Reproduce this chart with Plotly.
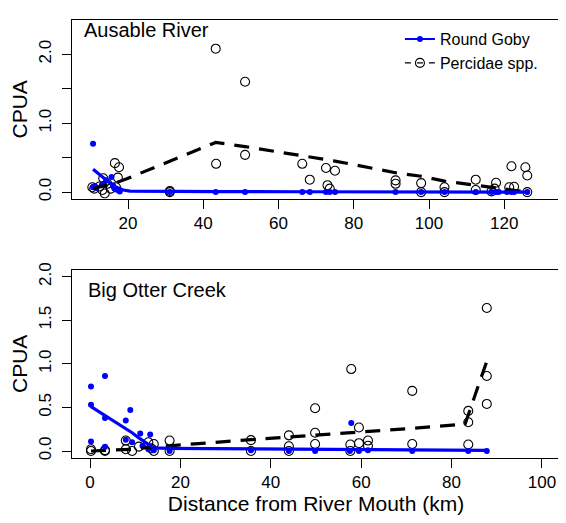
import plotly.graph_objects as go

# ---------------- Data ----------------
# Ausable River (top panel)
aus_goby_x = [10.7, 10.7, 11.2, 11.6, 13.0, 13.5, 14.2, 15.6, 16.0, 16.5, 17.2, 17.8,
              31.1, 43.3, 51.1, 66.3, 68.3, 72.6, 73.6, 75.0, 91.1, 97.9, 104.1,
              112.4, 116.6, 117.8, 118.5, 120.7, 121.9, 122.6, 126.1]
aus_goby_y = [0.70, 0.07, 0.08, 0.06, 0.10, 0.12, 0.17, 0.22, 0.10, 0.05, 0.03, 0.01,
              0.0, 0.0, 0.0, 0.0, 0.0, 0.0, 0.0, 0.0, 0.0, 0.0, 0.0,
              0.0, 0.0, 0.0, 0.0, 0.0, 0.0, 0.0, 0.0]
aus_perc_x = [10.5, 11.0, 12.4, 13.2, 13.8, 13.4, 14.5, 15.4, 16.5, 17.6, 17.3, 16.8,
              31.1, 31.1, 43.3, 43.4, 51.1, 51.1, 66.3, 68.3, 72.6, 73.0, 73.6, 75.0,
              91.1, 91.1, 97.9, 97.9, 104.1, 104.1, 112.4, 112.4, 117.8, 117.4, 116.6,
              121.3, 121.9, 122.6, 125.6, 126.1, 126.1]
aus_perc_y = [0.07, 0.05, 0.08, 0.03, -0.02, 0.20, 0.12, 0.05, 0.42, 0.36, 0.21, 0.07,
              0.015, 0.0, 2.08, 0.41, 1.60, 0.54, 0.41, 0.18, 0.35, 0.10, 0.05, 0.31,
              0.17, 0.12, 0.13, 0.0, 0.07, 0.0, 0.18, 0.03, 0.135, 0.05, 0.01,
              0.07, 0.375, 0.077, 0.36, 0.24, 0.0]
aus_goby_fit_x = [10.7, 12.0, 13.5, 15.0, 16.5, 18.7, 20.5, 31.1, 43.3, 66.3, 91.1, 112.4, 126.1]
aus_goby_fit_y = [0.33, 0.27, 0.20, 0.14, 0.08, 0.03, 0.015, 0.01, 0.008, 0.005, 0.003, 0.002, 0.0]
aus_perc_fit_x = [10.7, 13.0, 15.0, 17.5, 19.5, 31.1, 43.3, 51.1, 66.3, 75.0, 91.1, 97.9,
                  104.1, 112.4, 117.8, 121.9, 126.1]
aus_perc_fit_y = [0.05, 0.08, 0.11, 0.15, 0.19, 0.45, 0.72, 0.66, 0.53, 0.45, 0.28, 0.23,
                  0.16, 0.10, 0.06, 0.02, 0.0]

# Big Otter Creek (bottom panel)
bo_goby_x = [0.2, 0.2, 0.2, 3.3, 3.3, 3.3, 7.9, 7.9, 8.9, 9.3, 11.1, 11.6, 13.3, 12.9, 14.1,
             17.6, 35.6, 44.0, 49.8, 57.5, 57.8, 59.5, 61.5, 71.3, 83.7, 87.8]
bo_goby_y = [0.74, 0.53, 0.11, 0.86, 0.38, 0.05, 0.35, 0.13, 0.47, 0.10, 0.20, 0.06, 0.19, 0.02, 0.01,
             0.0, 0.01, 0.0, 0.0, 0.0, 0.32, 0.0, 0.01, 0.0, 0.0, 0.0]
bo_perc_x = [0.2, 0.2, 3.3, 3.3, 7.9, 7.9, 9.3, 10.8, 12.9, 13.5, 14.1, 14.1, 17.6, 17.6,
             35.6, 35.6, 44.0, 44.0, 44.0, 49.8, 49.8, 49.8, 57.8, 57.6, 57.6, 59.5, 59.5,
             61.5, 61.5, 71.3, 71.3, 83.7, 83.7, 83.7, 87.8, 87.8, 87.8]
bo_perc_y = [0.02, 0.0, 0.01, 0.0, 0.02, 0.12, 0.0, 0.05, 0.10, 0.03, 0.08, 0.0, 0.12, 0.0,
             0.125, 0.0, 0.18, 0.055, 0.0, 0.49, 0.21, 0.08, 0.94, 0.075, 0.0, 0.27, 0.09,
             0.12, 0.06, 0.69, 0.08, 0.46, 0.33, 0.075, 1.64, 0.86, 0.54]
bo_goby_fit_x = [0.2, 3.3, 7.9, 9.3, 10.8, 12.9, 14.1, 17.6, 35.6, 44.0, 49.8, 57.8, 61.5, 71.3, 83.7, 87.8]
bo_goby_fit_y = [0.51, 0.41, 0.26, 0.21, 0.15, 0.08, 0.035, 0.03, 0.025, 0.022, 0.02, 0.02, 0.018, 0.015, 0.01, 0.008]
bo_perc_fit_x = [0.2, 3.3, 7.9, 9.3, 10.8, 12.9, 14.1, 17.6, 35.6, 44.0, 49.8, 57.8, 61.5, 71.3, 83.0, 87.8]
bo_perc_fit_y = [0.0, 0.005, 0.015, 0.02, 0.03, 0.04, 0.045, 0.06, 0.13, 0.16, 0.18, 0.21, 0.22, 0.26, 0.31, 1.03]

panel_labels = ["Ausable River", "Big Otter Creek"]
series_names = ["Round Goby", "Percidae spp."]
top_yticks = [0, 0.5, 1.0, 1.5, 2.0, 2.5]
top_yticklabels = ["0.0", "", "1.0", "", "2.0", ""]
bot_yticks = [0, 0.5, 1.0, 1.5, 2.0]
bot_yticklabels = ["0.0", "0.5", "1.0", "1.5", "2.0"]
top_xticks = [20, 40, 60, 80, 100, 120]
bot_xticks = [0, 20, 40, 60, 80, 100]

BLUE = "#0000FF"
FONT = "Liberation Sans, Arial, Helvetica, sans-serif"

fig = go.Figure()

def add_panel(xa, ya, gx, gy, px, py, gfx, gfy, pfx, pfy):
    fig.add_trace(go.Scatter(x=px, y=py, mode="markers", xaxis=xa, yaxis=ya, showlegend=False,
                             marker=dict(symbol="circle-open", size=9, color="black",
                                         line=dict(width=1.1, color="black"))))
    fig.add_trace(go.Scatter(x=gx, y=gy, mode="markers", xaxis=xa, yaxis=ya, showlegend=False,
                             marker=dict(symbol="circle", size=6, color=BLUE)))
    fig.add_trace(go.Scatter(x=pfx, y=pfy, mode="lines", xaxis=xa, yaxis=ya, showlegend=False,
                             line=dict(color="black", width=3.2, dash="15px,10px")))
    fig.add_trace(go.Scatter(x=gfx, y=gfy, mode="lines", xaxis=xa, yaxis=ya, showlegend=False,
                             line=dict(color=BLUE, width=3.2)))

add_panel("x", "y", aus_goby_x, aus_goby_y, aus_perc_x, aus_perc_y,
          aus_goby_fit_x, aus_goby_fit_y, aus_perc_fit_x, aus_perc_fit_y)
add_panel("x2", "y2", bo_goby_x, bo_goby_y, bo_perc_x, bo_perc_y,
          bo_goby_fit_x, bo_goby_fit_y, bo_perc_fit_x, bo_perc_fit_y)

# legend entries
fig.add_trace(go.Scatter(x=[None], y=[None], mode="lines+markers", name=series_names[0],
                         line=dict(color=BLUE, width=2),
                         marker=dict(symbol="circle", size=6, color=BLUE)))
fig.add_trace(go.Scatter(x=[None], y=[None], mode="lines+markers", name=series_names[1],
                         line=dict(color="black", width=1.3, dash="6px,6px"),
                         marker=dict(symbol="circle-open", size=9, color="black",
                                     line=dict(width=1.1, color="black"))))

axis_common = dict(showgrid=False, zeroline=False, showline=True, linecolor="black",
                   linewidth=1, mirror=True, ticks="outside", ticklen=9, tickwidth=1,
                   tickcolor="black", tickfont=dict(family=FONT, size=17, color="black"))

# the page body adds an 8px margin, so the figure is sized to sit inside the window
fig.update_layout(
    width=558, height=515,
    margin=dict(l=64, r=5, t=7, b=65),
    paper_bgcolor="white", plot_bgcolor="white",
    font=dict(family=FONT, color="black"),
    xaxis=dict(domain=[0, 1], range=[5.1, 134.8], anchor="y", tickvals=top_xticks, **axis_common),
    yaxis=dict(domain=[0.592, 1.0], range=[-0.096, 2.496], anchor="x", tickvals=top_yticks,
               ticktext=top_yticklabels, tickangle=-90, ticklabelstandoff=4,
               title=dict(text="CPUA", font=dict(family=FONT, size=21), standoff=6), **axis_common),
    xaxis2=dict(domain=[0, 1], range=[-4, 104], anchor="y2", tickvals=bot_xticks,
                title=dict(text="Distance from River Mouth (km)", font=dict(family=FONT, size=21), standoff=3),
                **axis_common),
    yaxis2=dict(domain=[0, 0.43], range=[-0.08, 2.08], anchor="x2", tickvals=bot_yticks,
                ticktext=bot_yticklabels, tickangle=-90, ticklabelstandoff=4,
                title=dict(text="CPUA", font=dict(family=FONT, size=21), standoff=6), **axis_common),
    legend=dict(x=0.672, y=0.995, xanchor="left", yanchor="top", bgcolor="rgba(0,0,0,0)",
                borderwidth=0, font=dict(family=FONT, size=16), tracegroupgap=0),
    showlegend=True,
)

fig.add_annotation(text=panel_labels[0], xref="x domain", yref="y domain", x=0.02, y=1.0,
                   yshift=3, xanchor="left", yanchor="top", showarrow=False,
                   font=dict(family=FONT, size=20))
fig.add_annotation(text=panel_labels[1], xref="x2 domain", yref="y2 domain", x=0.028, y=0.95,
                   yshift=2, xanchor="left", yanchor="top", showarrow=False,
                   font=dict(family=FONT, size=20))

fig.write_html("out.html")
